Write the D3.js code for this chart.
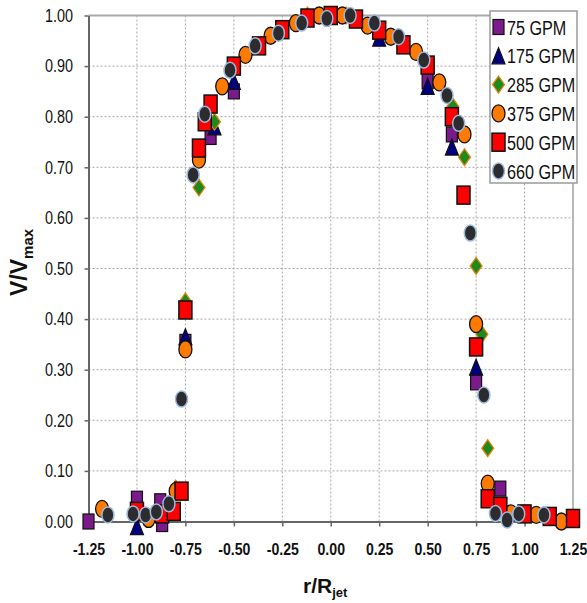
<!DOCTYPE html>
<html>
<head>
<meta charset="utf-8">
<script src="https://cdn.jsdelivr.net/npm/d3@7"></script>
<style>
  html, body { margin: 0; padding: 0; background: #fff; }
  svg { display: block; }
</style>
</head>
<body>
<svg id="chart" width="587" height="603"></svg>
<script>
// Normalised jet velocity profiles, V/Vmax against r/Rjet, one series per flow rate.
const seriesNames = ["75 GPM", "175 GPM", "285 GPM", "375 GPM", "500 GPM", "660 GPM"];

const r75  = [-1.25, -1.00, -0.88, -0.87, -0.75, -0.62, -0.50, 0.50, 0.625, 0.75, 0.875];
const v75  = [0.00, 0.045, 0.04, -0.005, 0.355, 0.76, 0.85, 0.87, 0.765, 0.275, 0.065];

const r175 = [-1.00, -0.75, -0.60, -0.50, 0.25, 0.50, 0.625, 0.75];
const v175 = [-0.01, 0.365, 0.78, 0.87, 0.955, 0.86, 0.74, 0.305];

const r285 = [-0.80, -0.75, -0.68, -0.60, -0.12, 0.08, 0.63, 0.69, 0.75, 0.78, 0.81];
const v285 = [0.065, 0.435, 0.66, 0.79, 1.00, 1.00, 0.82, 0.72, 0.505, 0.37, 0.145];

const r375 = [-1.18, -0.94, -0.80, -0.75, -0.68, -0.56, -0.44, -0.31, -0.18, -0.06, 0.06, 0.19, 0.31, 0.44, 0.56, 0.69, 0.75, 0.81, 0.93, 1.06, 1.19];
const v375 = [0.025, 0.005, 0.06, 0.34, 0.715, 0.86, 0.922, 0.96, 0.985, 1.00, 1.00, 0.98, 0.958, 0.928, 0.868, 0.765, 0.39, 0.075, 0.016, 0.013, 0.00];

const r500 = [-1.00, -0.87, -0.81, -0.77, -0.75, -0.68, -0.65, -0.62, -0.50, -0.37, -0.25, -0.12, 0.00, 0.13, 0.25, 0.375, 0.50, 0.625, 0.685, 0.75, 0.81, 0.875, 1.00, 1.13, 1.25];
const v500 = [0.02, 0.015, 0.02, 0.06, 0.418, 0.738, 0.79, 0.825, 0.90, 0.94, 0.972, 0.995, 1.00, 0.993, 0.971, 0.942, 0.902, 0.80, 0.645, 0.345, 0.045, 0.03, 0.015, 0.01, 0.006];

const r660 = [-1.15, -1.02, -0.955, -0.90, -0.835, -0.77, -0.71, -0.65, -0.52, -0.39, -0.27, -0.15, -0.02, 0.10, 0.225, 0.35, 0.48, 0.60, 0.66, 0.72, 0.79, 0.85, 0.91, 0.97, 1.10];
const v660 = [0.013, 0.015, 0.013, 0.019, 0.035, 0.242, 0.685, 0.805, 0.892, 0.94, 0.965, 0.985, 0.994, 1.00, 0.985, 0.958, 0.912, 0.842, 0.787, 0.57, 0.25, 0.016, 0.003, 0.015, 0.013];

const xTickValues = [-1.25, -1.00, -0.75, -0.50, -0.25, 0.00, 0.25, 0.50, 0.75, 1.00, 1.25];
const yTickValues = [0.00, 0.10, 0.20, 0.30, 0.40, 0.50, 0.60, 0.70, 0.80, 0.90, 1.00];

// Marker look per series
const markerStyles = [
  { shape: "square",   w: 11, h: 15, fill: "#7b1a8b", stroke: "#111",    sw: 1.2 },
  { shape: "triangle", w: 13, h: 16, fill: "#000080", stroke: "#111",    sw: 1.2 },
  { shape: "diamond",  w: 12, h: 17, fill: "#1f8a1c", stroke: "#e88410", sw: 1.2 },
  { shape: "ellipse",  w: 13, h: 17, fill: "#ff7a00", stroke: "#111",    sw: 1.3 },
  { shape: "square",   w: 13, h: 18, fill: "#ff0000", stroke: "#111",    sw: 1.5 },
  { shape: "ellipse",  w: 12, h: 16, fill: "#2c2c2e", stroke: "#9db8dc", sw: 1.5 }
];

const seriesData = [
  [r75, v75], [r175, v175], [r285, v285], [r375, v375], [r500, v500], [r660, v660]
].map(([rs, vs], i) => ({
  name: seriesNames[i],
  style: markerStyles[i],
  points: rs.map((r, j) => ({ r: r, v: vs[j] }))
}));

const svg = d3.select("#chart");
const plot = { left: 88.5, right: 573, top: 15.5, bottom: 521.5 };

const x = d3.scaleLinear().domain([-1.25, 1.25]).range([plot.left, plot.right]);
const y = d3.scaleLinear().domain([0, 1]).range([plot.bottom, plot.top]);

const sans = "'Liberation Sans', Arial, sans-serif";

// Squeeze text horizontally about its anchor point, for a condensed face look
function condense(sel, k) {
  sel.each(function () {
    const ax = +(this.getAttribute("x") || 0);
    d3.select(this).attr("transform", `translate(${ax},0) scale(${k},1) translate(${-ax},0)`);
  });
}

// Dotted grid
const grid = svg.append("g");
grid.selectAll("line.gx")
  .data(xTickValues.filter(d => d > -1.25 && d < 1.25))
  .join("line")
  .attr("x1", d => x(d)).attr("x2", d => x(d))
  .attr("y1", plot.top).attr("y2", plot.bottom)
  .attr("stroke", "#a8a8a8").attr("stroke-width", 1).attr("stroke-dasharray", "2,2");
grid.selectAll("line.gy")
  .data(yTickValues.filter(d => d > 0 && d < 1))
  .join("line")
  .attr("x1", plot.left).attr("x2", plot.right)
  .attr("y1", d => y(d)).attr("y2", d => y(d))
  .attr("stroke", "#a8a8a8").attr("stroke-width", 1).attr("stroke-dasharray", "2,2");

// Plot frame: light top and right edges
svg.append("line")
  .attr("x1", plot.left).attr("x2", plot.right).attr("y1", plot.top).attr("y2", plot.top)
  .attr("stroke", "#a9a9a9").attr("stroke-width", 2);
svg.append("line")
  .attr("x1", plot.right).attr("x2", plot.right).attr("y1", plot.top).attr("y2", plot.bottom)
  .attr("stroke", "#a0a0a0").attr("stroke-width", 1.5);

// Axes
const fmt = d => d.toFixed(2);
const xAxis = svg.append("g")
  .attr("transform", `translate(0,${plot.bottom})`)
  .call(d3.axisBottom(x).tickValues(xTickValues).tickFormat(fmt).tickSize(5).tickSizeOuter(0).tickPadding(16.5));
const yAxis = svg.append("g")
  .attr("transform", `translate(${plot.left},0)`)
  .call(d3.axisLeft(y).tickValues(yTickValues).tickFormat(fmt).tickSize(4).tickSizeOuter(0).tickPadding(11.5));

[xAxis, yAxis].forEach(g => {
  g.select(".domain").attr("stroke", "#666").attr("stroke-width", 2);
  g.selectAll(".tick line").attr("stroke", "#666").attr("stroke-width", 1.5);
});
xAxis.selectAll(".tick text")
  .attr("font-family", sans).attr("font-size", 17).attr("font-weight", "bold").attr("fill", "#111")
  .call(condense, 0.83);
yAxis.selectAll(".tick text")
  .attr("font-family", sans).attr("font-size", 18).attr("fill", "#111")
  .call(condense, 0.8);

// Markers
function drawMarker(sel, st) {
  const w = st.w, h = st.h;
  let el;
  if (st.shape === "square") {
    el = sel.append("rect").attr("x", -w / 2).attr("y", -h / 2).attr("width", w).attr("height", h);
  } else if (st.shape === "ellipse") {
    el = sel.append("ellipse").attr("rx", w / 2).attr("ry", h / 2);
  } else if (st.shape === "triangle") {
    el = sel.append("path").attr("d", `M0,${-h / 2}L${w / 2},${h / 2}L${-w / 2},${h / 2}Z`);
  } else {
    el = sel.append("path").attr("d", `M0,${-h / 2}L${w / 2},0L0,${h / 2}L${-w / 2},0Z`);
  }
  el.attr("fill", st.fill).attr("stroke", st.stroke).attr("stroke-width", st.sw)
    .attr("stroke-linejoin", "miter");
}

const marks = svg.append("g");
seriesData.forEach(s => {
  const g = marks.append("g").attr("class", "series");
  g.selectAll("g.pt")
    .data(s.points)
    .join("g")
    .attr("class", "pt")
    .attr("transform", d => `translate(${x(d.r)},${y(d.v)})`)
    .each(function () { drawMarker(d3.select(this), s.style); });
});

// Legend
const legend = svg.append("g");
legend.append("rect")
  .attr("x", 490).attr("y", 11).attr("width", 87).attr("height", 172)
  .attr("fill", "#fff").attr("stroke", "#9a9a9a").attr("stroke-width", 1.5);
const legendRow = d3.scaleLinear().domain([0, 5]).range([27, 171]);
seriesData.forEach((s, i) => {
  const row = legend.append("g").attr("transform", `translate(498.5,${legendRow(i)})`);
  drawMarker(row, s.style);
  row.append("text")
    .attr("x", 8.5).attr("y", 7.5)
    .attr("font-family", sans).attr("font-size", 21).attr("fill", "#111")
    .text(s.name)
    .call(condense, 0.77);
});

// Axis titles
const xTitle = svg.append("text")
  .attr("x", 303).attr("y", 592.5)
  .attr("font-family", sans).attr("font-weight", "bold").attr("font-size", 21).attr("fill", "#111");
xTitle.append("tspan").text("r/R");
xTitle.append("tspan").attr("dy", 4).attr("font-size", 13).text("jet");

const yTitle = svg.append("text")
  .attr("transform", "translate(27,296) rotate(-90)")
  .attr("font-family", sans).attr("font-weight", "bold").attr("font-size", 23).attr("fill", "#111");
yTitle.append("tspan").text("V/V");
yTitle.append("tspan").attr("dy", 6).attr("font-size", 15).text("max");
</script>
</body>
</html>
